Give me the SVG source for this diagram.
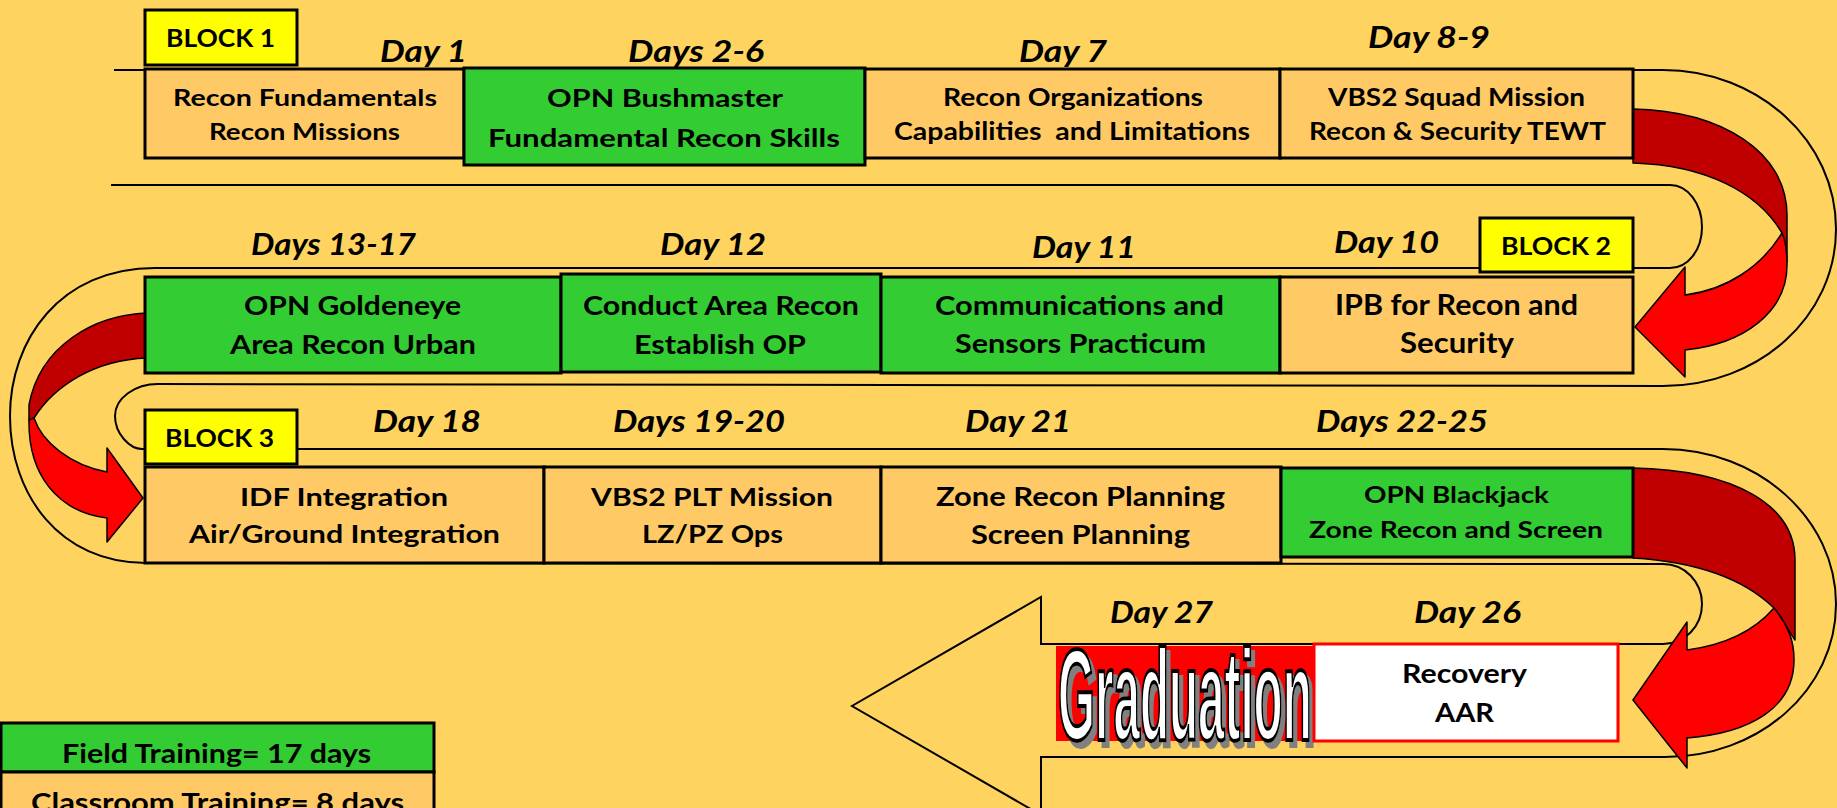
<svg xmlns="http://www.w3.org/2000/svg" width="1837" height="808" viewBox="0 0 1837 808">
<style>
.bx{stroke:#000;stroke-width:3}
.lt{fill:#FFCA65}
.gr{fill:#33CC33}
.yl{fill:#FFFF00}
.lane{fill:none;stroke:#000;stroke-width:2}
.dk{fill:#C00000;stroke:#000;stroke-width:1.5;stroke-linejoin:round}
.rd{fill:#FF0000;stroke:#000;stroke-width:1.5;stroke-linejoin:round}
text{font-family:Lato,"Open Sans","Liberation Sans",sans-serif;font-weight:700;fill:#000}
.day{font-style:italic;font-size:31px}
.blk{font-size:24px}
.s23{font-size:23px}.s24{font-size:24px}.s25{font-size:25px}.s26{font-size:26px}.s27{font-size:27px}.s28{font-size:28px}
.grad{font-family:"Liberation Sans",Arial,sans-serif;font-size:130px;font-weight:700;fill:#FFFFFF;stroke:#000;stroke-width:4}
</style>
<defs>
  <filter id="shadow" x="-5%" y="-10%" width="115%" height="130%">
    <feOffset in="SourceAlpha" dx="11" dy="6" result="off"/>
    <feFlood flood-color="#808080"/>
    <feComposite in2="off" operator="in" result="sh"/>
    <feMerge><feMergeNode in="sh"/><feMergeNode in="SourceGraphic"/></feMerge>
  </filter>
</defs>
<rect x="0" y="0" width="1837" height="808" fill="#FFD35F"/>

<g id="connectors">
  <path class="lane" d="M114,70 L1663,70 C1758.5,70 1836,141 1836,229 C1836,317 1758.5,386 1663,386 L158,384 C135,384 115,398 115,416 C115,434 130,449 142,449 L1663,449 C1758.5,449 1836,519 1836,604 C1836,690 1758.5,758 1663,757 L1041,757 L1041,815"/>
  <path class="lane" d="M111,185 L1670,185 C1688,185 1702,204 1702,227 C1702,250 1688,268 1670,268 L155,268 C60,268 10,340 10,416 C10,495 60,563 146,563 L1663,564 C1685,564 1702,582 1702,604 C1702,626 1685,644 1663,644 L1041,644 L1041,597 L852,706 L1041,815"/>
  <g id="arrow1">
    <path class="dk" d="M1633,109 C1722,111 1787,152 1787,215 L1787,262 L1782,233 C1758,192 1705,165 1633,163 Z"/>
    <path class="rd" d="M1782,233 C1786,242 1787,252 1787,265 C1787,312 1744,344 1685,350 L1685,377 L1635,327 L1685,267 L1685,295 C1727,290 1762,266 1782,233 Z"/>
  </g>
  <g id="arrow2">
    <path class="dk" d="M147,313 C95,315 40,345 29,405 L29,420 L34,418 C55,385 95,360 147,358 Z"/>
    <path class="rd" d="M34,418 C42,442 70,465 107,472 L107,448 L143,498 L107,542 L107,518 C58,512 28,475 29,420 Z"/>
  </g>
  <g id="arrow3">
    <path class="dk" d="M1633,468 C1735,470 1795,505 1795,560 L1795,640 L1774,608 C1745,580 1700,562 1633,558 Z"/>
    <path class="rd" d="M1774,608 C1788,625 1794,640 1794,660 C1794,708 1750,733 1687,738 L1687,768 L1633,700 L1687,622 L1687,650 C1725,645 1755,630 1774,608 Z"/>
  </g>
</g>

<g id="block1"><rect class="bx yl" x="145" y="10" width="152" height="55"/><text class="blk" x="166" y="47" textLength="109" lengthAdjust="spacingAndGlyphs">BLOCK 1</text></g>
<g id="block2"><rect class="bx yl" x="1480" y="218" width="153" height="54"/><text class="blk" x="1501" y="255" textLength="110" lengthAdjust="spacingAndGlyphs">BLOCK 2</text></g>
<g id="block3"><rect class="bx yl" x="145" y="410" width="152" height="54"/><text class="blk" x="165" y="447" textLength="109" lengthAdjust="spacingAndGlyphs">BLOCK 3</text></g>

<g id="labels">
  <text class="day" x="380" y="62" textLength="87" lengthAdjust="spacingAndGlyphs">Day 1</text>
  <text class="day" x="628" y="62" textLength="136" lengthAdjust="spacingAndGlyphs">Days 2-6</text>
  <text class="day" x="1019" y="62" textLength="88" lengthAdjust="spacingAndGlyphs">Day 7</text>
  <text class="day" x="1368" y="48" textLength="122" lengthAdjust="spacingAndGlyphs">Day 8-9</text>
  <text class="day" x="251" y="255" textLength="165" lengthAdjust="spacingAndGlyphs">Days 13-17</text>
  <text class="day" x="660" y="255" textLength="106" lengthAdjust="spacingAndGlyphs">Day 12</text>
  <text class="day" x="1032" y="258" textLength="104" lengthAdjust="spacingAndGlyphs">Day 11</text>
  <text class="day" x="1334" y="253" textLength="105" lengthAdjust="spacingAndGlyphs">Day 10</text>
  <text class="day" x="373" y="432" textLength="108" lengthAdjust="spacingAndGlyphs">Day 18</text>
  <text class="day" x="613" y="432" textLength="172" lengthAdjust="spacingAndGlyphs">Days 19-20</text>
  <text class="day" x="965" y="432" textLength="106" lengthAdjust="spacingAndGlyphs">Day 21</text>
  <text class="day" x="1316" y="432" textLength="172" lengthAdjust="spacingAndGlyphs">Days 22-25</text>
  <text class="day" x="1110" y="623" textLength="103" lengthAdjust="spacingAndGlyphs">Day 27</text>
  <text class="day" x="1414" y="623" textLength="107" lengthAdjust="spacingAndGlyphs">Day 26</text>
</g>

<g id="n-day1"><rect class="bx lt" x="145" y="69" width="319" height="89"/>
  <text class="s23" x="173" y="106" textLength="264" lengthAdjust="spacingAndGlyphs">Recon Fundamentals</text>
  <text class="s23" x="209" y="140" textLength="191" lengthAdjust="spacingAndGlyphs">Recon Missions</text></g>
<g id="n-day2-6"><rect class="bx gr" x="464" y="68" width="401" height="97"/>
  <text class="s24" x="547" y="107" textLength="236" lengthAdjust="spacingAndGlyphs">OPN Bushmaster</text>
  <text class="s24" x="488" y="147" textLength="352" lengthAdjust="spacingAndGlyphs">Fundamental Recon Skills</text></g>
<g id="n-day7"><rect class="bx lt" x="865" y="69" width="415" height="89"/>
  <text class="s24" x="943" y="106" textLength="260" lengthAdjust="spacingAndGlyphs">Recon Organizations</text>
  <text class="s24" x="894" y="140" textLength="356" lengthAdjust="spacingAndGlyphs" xml:space="preserve">Capabilities  and Limitations</text></g>
<g id="n-day8-9"><rect class="bx lt" x="1280" y="69" width="353" height="89"/>
  <text class="s25" x="1328" y="106" textLength="257" lengthAdjust="spacingAndGlyphs">VBS2 Squad Mission</text>
  <text class="s25" x="1309" y="140" textLength="297" lengthAdjust="spacingAndGlyphs">Recon &amp; Security TEWT</text></g>

<g id="n-day13-17"><rect class="bx gr" x="145" y="277" width="416" height="96"/>
  <text class="s26" x="244" y="315" textLength="217" lengthAdjust="spacingAndGlyphs">OPN Goldeneye</text>
  <text class="s26" x="230" y="354" textLength="246" lengthAdjust="spacingAndGlyphs">Area Recon Urban</text></g>
<g id="n-day12"><rect class="bx gr" x="561" y="274" width="320" height="98"/>
  <text class="s26" x="583" y="315" textLength="276" lengthAdjust="spacingAndGlyphs">Conduct Area Recon</text>
  <text class="s26" x="634" y="354" textLength="172" lengthAdjust="spacingAndGlyphs">Establish OP</text></g>
<g id="n-day11"><rect class="bx gr" x="881" y="277" width="399" height="96"/>
  <text class="s27" x="935" y="315" textLength="289" lengthAdjust="spacingAndGlyphs">Communications and</text>
  <text class="s27" x="955" y="353" textLength="251" lengthAdjust="spacingAndGlyphs">Sensors Practicum</text></g>
<g id="n-day10"><rect class="bx lt" x="1280" y="277" width="353" height="96"/>
  <text class="s28" x="1335" y="315" textLength="243" lengthAdjust="spacingAndGlyphs">IPB for Recon and</text>
  <text class="s28" x="1400" y="353" textLength="114" lengthAdjust="spacingAndGlyphs">Security</text></g>

<g id="n-day18"><rect class="bx lt" x="145" y="467" width="399" height="96"/>
  <text class="s25" x="240" y="506" textLength="208" lengthAdjust="spacingAndGlyphs">IDF Integration</text>
  <text class="s25" x="189" y="543" textLength="311" lengthAdjust="spacingAndGlyphs">Air/Ground Integration</text></g>
<g id="n-day19-20"><rect class="bx lt" x="544" y="467" width="337" height="96"/>
  <text class="s25" x="591" y="506" textLength="242" lengthAdjust="spacingAndGlyphs">VBS2 PLT Mission</text>
  <text class="s25" x="642" y="543" textLength="141" lengthAdjust="spacingAndGlyphs">LZ/PZ Ops</text></g>
<g id="n-day21"><rect class="bx lt" x="881" y="467" width="400" height="96"/>
  <text class="s26" x="936" y="506" textLength="289" lengthAdjust="spacingAndGlyphs">Zone Recon Planning</text>
  <text class="s26" x="971" y="544" textLength="219" lengthAdjust="spacingAndGlyphs">Screen Planning</text></g>
<g id="n-day22-25"><rect class="bx gr" x="1281" y="468" width="352" height="89" stroke-width="4"/>
  <text class="s23" x="1364" y="503" textLength="185" lengthAdjust="spacingAndGlyphs">OPN Blackjack</text>
  <text class="s23" x="1309" y="538" textLength="294" lengthAdjust="spacingAndGlyphs">Zone Recon and Screen</text></g>

<g id="n-day27">
  <rect x="1056" y="646" width="258" height="95" fill="#FF0000"/>
  <text class="grad" transform="translate(1058,740) scale(0.366,1)" x="0" y="0" filter="url(#shadow)">Graduation</text>
</g>
<g id="n-day26"><rect x="1314" y="644" width="304" height="97" fill="#FFFFFF" stroke="#FF0000" stroke-width="3"/>
  <text class="s27" x="1402" y="683" textLength="125" lengthAdjust="spacingAndGlyphs">Recovery</text>
  <text class="s27" x="1435" y="722" textLength="59" lengthAdjust="spacingAndGlyphs">AAR</text></g>

<g id="legend">
  <rect class="bx gr" x="1" y="723" width="433" height="49"/>
  <rect class="bx lt" x="1" y="772" width="433" height="60"/>
  <text class="s26" x="62" y="763" textLength="309" lengthAdjust="spacingAndGlyphs">Field Training= 17 days</text>
  <text class="s26" x="31" y="812" textLength="373" lengthAdjust="spacingAndGlyphs">Classroom Training= 8 days</text>
</g>
</svg>
